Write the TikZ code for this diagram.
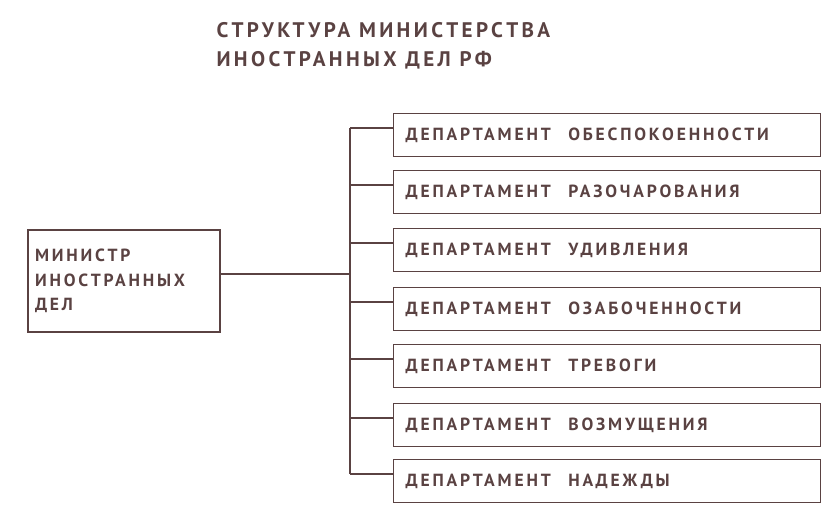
\documentclass[tikz,border=0pt]{standalone}
\usepackage{fontspec}
\setmainfont[LetterSpace=16]{PT Sans}
\definecolor{ink}{HTML}{5A4242}
\begin{document}
\begin{tikzpicture}[x=0.03cm,y=-0.03cm,
    line width=1.1pt, draw=ink,
    dept/.style={draw=ink, text=ink, minimum width=427*0.03cm, minimum height=43*0.03cm,
      text width=403*0.03cm, align=left, anchor=west, inner xsep=12*0.03cm, inner ysep=0pt,
      font=\bfseries\fontsize{15}{16}\selectfont},
    boss/.style={draw=ink, text=ink, minimum width=192*0.03cm, minimum height=102*0.03cm,
      text width=178*0.03cm, align=left, font=\bfseries\fontsize{15}{21}\selectfont}]
\useasboundingbox (0,0) rectangle (837,529);
\node[text=ink, align=left, anchor=north west, font=\bfseries\fontsize{18}{25}\selectfont] (title) at (212,18)
  {СТРУКТУРА МИНИСТЕРСТВА\\ИНОСТРАННЫХ ДЕЛ РФ};
\node[boss] (boss) at (124,281) {МИНИСТР\\ИНОСТРАННЫХ\\ДЕЛ};
\coordinate (top) at (350,128);
\coordinate (bot) at (350,474);
\coordinate (mid) at (350,274);
\draw (top) -- (bot);
\draw (boss.east |- mid) -- (mid);
\foreach \y/\name [count=\i] in {135/ОБЕСПОКОЕННОСТИ,192/РАЗОЧАРОВАНИЯ,250/УДИВЛЕНИЯ,309/ОЗАБОЧЕННОСТИ,366/ТРЕВОГИ,425/ВОЗМУЩЕНИЯ,481/НАДЕЖДЫ}{
  \node[dept] (d\i) at (393,\y) {ДЕПАРТАМЕНТ\quad \name};
  \coordinate (s\i) at (350,\y-7);
  \draw (s\i) -- (d\i.west |- s\i);
}
\end{tikzpicture}
\end{document}
